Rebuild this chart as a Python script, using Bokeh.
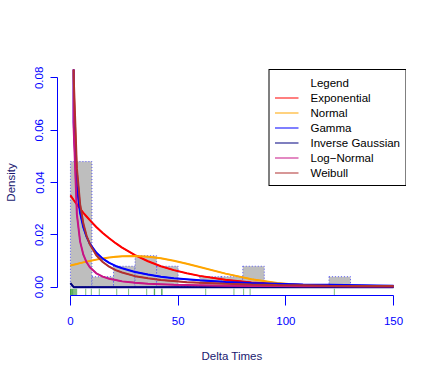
import numpy as np
from bokeh.plotting import figure
from bokeh.models import Range1d, FixedTicker, PrintfTickFormatter, Legend, LegendItem
from bokeh.embed import file_html
from bokeh.resources import INLINE

# ---- data ----
delta_times = [0.05, 0.1, 0.4, 0.7, 1.0, 1.3, 1.7, 2.1, 2.5, 2.9, 7.1, 9.7,
               13.4, 21.5, 27.0, 35.4, 38.9, 39.1, 42.3, 42.6, 62.8, 75.9,
               80.4, 83.4, 122.5]
bin_edges = [0, 10, 20, 30, 40, 50, 60, 70, 80, 90, 100, 110, 120, 130, 140, 150]

x_grid = [0, 1.5, 3, 4.5, 6, 7.5, 9, 12, 15, 18, 21, 24, 30, 36, 42, 48, 54,
          60, 72, 84, 96, 108, 120, 135, 150]
exponential = [0.0351, 0.0333, 0.0316, 0.0300, 0.0284, 0.0270, 0.0256, 0.0230,
               0.0207, 0.0187, 0.0168, 0.0151, 0.0122, 0.0099, 0.0080, 0.0065,
               0.0053, 0.0043, 0.0028, 0.0018, 0.0012, 0.0008, 0.0005, 0.0003, 0.0002]
normal = [0.00825, 0.00857, 0.00887, 0.00918, 0.00947, 0.00975, 0.01002, 0.01052,
          0.01095, 0.01132, 0.0116, 0.01179, 0.0119, 0.01163, 0.01101, 0.01009,
          0.00896, 0.0077, 0.00517, 0.00305, 0.00158, 0.00072, 0.00029, 0.00008, 0.00002]
gamma = [1.0, 0.0631, 0.0382, 0.0283, 0.0228, 0.0192, 0.0166, 0.0132, 0.0109,
         0.0093, 0.0081, 0.0072, 0.0058, 0.0048, 0.0040, 0.0034, 0.0030, 0.0026,
         0.0020, 0.0016, 0.0013, 0.0010, 0.0009, 0.0007, 0.0005]
inverse_gaussian = [0.0015, 0.0, 0.0, 0.0, 0.0, 0.0, 0.0, 0.0, 0.0, 0.0, 0.0, 0.0,
                    0.0, 0.0, 0.0, 0.0, 0.0, 0.0, 0.0, 0.0, 0.0, 0.0, 0.0, 0.0, 0.0]
log_normal = [1.0, 0.0608, 0.0278, 0.0174, 0.0124, 0.0095, 0.0076, 0.0053, 0.0040,
              0.0032, 0.0027, 0.0022, 0.0017, 0.0013, 0.0011, 0.0009, 0.0008, 0.0007,
              0.0005, 0.0004, 0.0004, 0.0003, 0.0003, 0.0002, 0.0002]
weibull = [1.0, 0.0807, 0.0454, 0.0317, 0.0243, 0.0196, 0.0164, 0.0122, 0.0096,
           0.0078, 0.0065, 0.0056, 0.0042, 0.0034, 0.0027, 0.0023, 0.0019, 0.0017,
           0.0013, 0.0010, 0.0008, 0.0007, 0.0005, 0.0004, 0.0004]

series_names = ["Exponential", "Normal", "Gamma", "Inverse Gaussian", "Log\u2212Normal", "Weibull"]
series_values = [exponential, normal, gamma, inverse_gaussian, log_normal, weibull]
series_colors = ["red", "orange", "blue", "navy", "mediumvioletred", "#B03030"]

x_ticks = [0, 50, 100, 150]
y_ticks = [0.0, 0.02, 0.04, 0.06, 0.08]

FONT = "Liberation Sans"
FS = "11.5px"

# ---- figure ----
p = figure(width=436, height=382, output_backend="svg", toolbar_location=None,
           x_range=Range1d(-6, 156), y_range=Range1d(-0.0032, 0.0832),
           min_border_left=57, min_border_right=30, min_border_top=69,
           min_border_bottom=87,
           x_axis_label="Delta Times", y_axis_label="Density")
p.outline_line_color = None
p.grid.visible = False
p.background_fill_color = "white"

density, edges = np.histogram(delta_times, bins=bin_edges, density=True)
p.quad(left=edges[:-1], right=edges[1:], top=density, bottom=0,
       fill_color="#BEBEBE", line_color="blue", line_alpha=0.6, line_dash="1 2")

rug_bottom = -0.0032
rug_top = -0.0032 + 0.03 * 0.0864
p.segment(x0=delta_times, y0=[rug_bottom] * len(delta_times),
          x1=delta_times, y1=[rug_top] * len(delta_times),
          line_color="green", line_alpha=0.5, line_width=1)

# thin copies (hidden beneath the curves) serve as the legend's key lines
keys = []
for vals, col in zip(series_values, series_colors):
    keys.append(p.line(x_grid, vals, line_color=col, line_width=1.2))
for vals, col in zip(series_values, series_colors):
    p.line(x_grid, vals, line_color=col, line_width=2)

title_dummy = p.line(x=[], y=[], line_alpha=0)
items = [LegendItem(label="Legend", renderers=[title_dummy])]
for name, key in zip(series_names, keys):
    items.append(LegendItem(label=name, renderers=[key]))
legend = Legend(items=items, location="top_right", margin=0, padding=5, spacing=0,
                label_height=15, glyph_height=15, glyph_width=24, label_standoff=12,
                label_text_font=FONT, label_text_font_size=FS, label_text_color="black",
                border_line_color="black", border_line_alpha=1, border_line_width=1,
                background_fill_color="white", background_fill_alpha=1)
p.add_layout(legend)

for ax in (p.xaxis[0], p.yaxis[0]):
    ax.axis_line_color = "blue"
    ax.major_tick_line_color = "blue"
    ax.minor_tick_line_color = None
    ax.major_tick_in = 0
    ax.major_label_text_color = "blue"
    ax.major_label_text_font = FONT
    ax.major_label_text_font_size = FS
    ax.axis_label_text_color = "#191970"
    ax.axis_label_text_font = FONT
    ax.axis_label_text_font_size = FS
    ax.axis_label_text_font_style = "normal"

p.xaxis.ticker = FixedTicker(ticks=x_ticks)
p.xaxis.bounds = (0, 150)
p.xaxis.major_tick_out = 10
p.xaxis.major_label_standoff = 11
p.xaxis.axis_label_standoff = 22

p.yaxis.ticker = FixedTicker(ticks=y_ticks)
p.yaxis.bounds = (0, 0.08)
p.yaxis.formatter = PrintfTickFormatter(format="%.2f")
p.yaxis.major_label_orientation = "vertical"
p.yaxis.major_tick_out = 7
p.yaxis.major_label_standoff = 7
p.yaxis.axis_label_standoff = 16

open("out.html", "w").write(file_html(p, INLINE))
